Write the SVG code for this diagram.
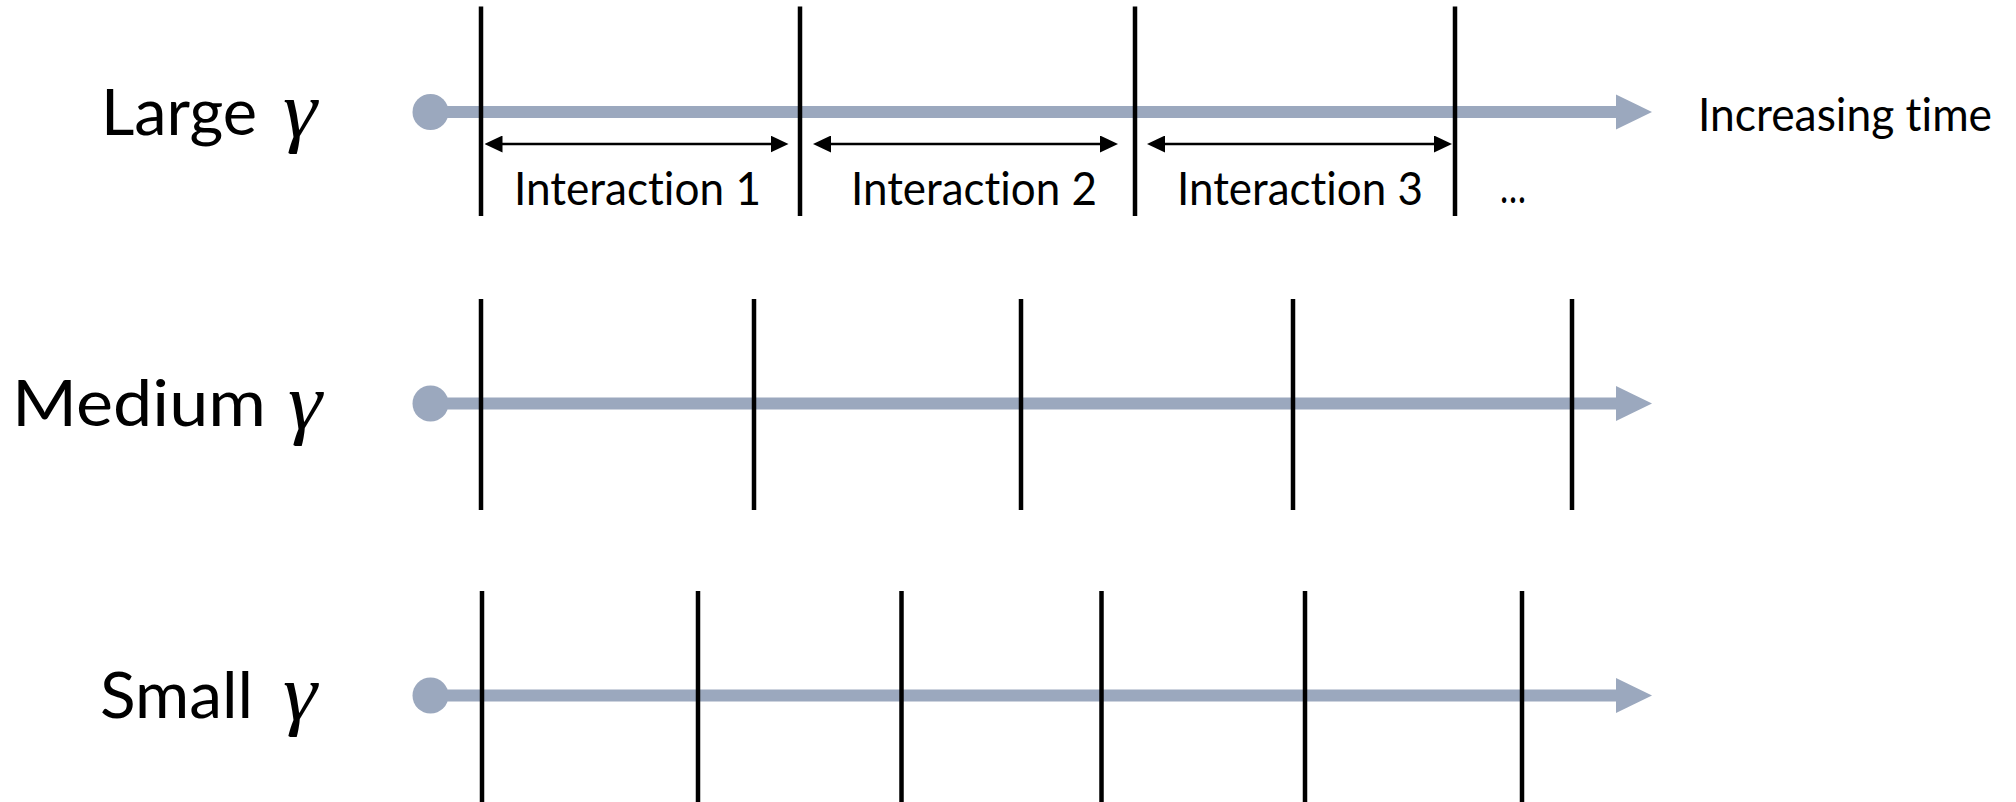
<svg xmlns="http://www.w3.org/2000/svg" width="2016" height="802" viewBox="0 0 2016 802">
  <style>
    .bar { stroke: #9BA8BE; stroke-width: 12; fill: none; }
    .dot { fill: #9BA8BE; }
    .tick { stroke: #000; stroke-width: 4.5; }
    .dbl { stroke: #000; stroke-width: 2.7; fill: none; }
    .lbl { font-family: Lato, "Open Sans", sans-serif; font-size: 64px; fill: #000; font-variant-ligatures: none; }
    .gam { font-family: "Liberation Serif", "DejaVu Serif", serif; font-style: italic; font-size: 80px; fill: #000; }
    .small { font-family: Lato, "Open Sans", sans-serif; font-size: 46px; fill: #000; font-variant-ligatures: none; font-feature-settings: "liga" 0, "clig" 0; }
  </style>
  <defs>
    <marker id="bighead" markerUnits="userSpaceOnUse" markerWidth="36" markerHeight="36" refX="0" refY="17.5" orient="auto" viewBox="0 0 36 35">
      <path d="M0,0 L36,17.5 L0,35 z" fill="#9BA8BE"/>
    </marker>
    <marker id="head" markerUnits="userSpaceOnUse" markerWidth="18" markerHeight="17" refX="8" refY="8.5" orient="auto-start-reverse" viewBox="0 0 18 17">
      <path d="M0,0 L18,8.5 L0,17 z" fill="#000"/>
    </marker>
  </defs>

  <g id="row-large">
    <text class="lbl" x="101" y="134.5" textLength="156" lengthAdjust="spacingAndGlyphs">Large</text>
    <text class="gam" x="283" y="137" textLength="34" lengthAdjust="spacingAndGlyphs">γ</text>
    <circle class="dot" cx="430.5" cy="112" r="18"/>
    <line class="bar" x1="430" y1="112" x2="1616" y2="112" marker-end="url(#bighead)"/>
    <line class="tick" x1="481" y1="6.5" x2="481" y2="216"/>
    <line class="tick" x1="800" y1="6.5" x2="800" y2="216"/>
    <line class="tick" x1="1135" y1="6.5" x2="1135" y2="216"/>
    <line class="tick" x1="1455" y1="6.5" x2="1455" y2="216"/>
  </g>

  <g id="row-medium">
    <text class="lbl" x="12" y="426" textLength="254" lengthAdjust="spacingAndGlyphs">Medium</text>
    <text class="gam" x="288" y="428.5" textLength="34" lengthAdjust="spacingAndGlyphs">γ</text>
    <circle class="dot" cx="430.5" cy="403.5" r="18"/>
    <line class="bar" x1="430" y1="403.5" x2="1616" y2="403.5" marker-end="url(#bighead)"/>
    <line class="tick" x1="481" y1="299" x2="481" y2="510"/>
    <line class="tick" x1="754" y1="299" x2="754" y2="510"/>
    <line class="tick" x1="1021" y1="299" x2="1021" y2="510"/>
    <line class="tick" x1="1293" y1="299" x2="1293" y2="510"/>
    <line class="tick" x1="1572" y1="299" x2="1572" y2="510"/>
  </g>

  <g id="row-small">
    <text class="lbl" x="100" y="717.5" textLength="153" lengthAdjust="spacingAndGlyphs">Small</text>
    <text class="gam" x="283" y="720" textLength="34" lengthAdjust="spacingAndGlyphs">γ</text>
    <circle class="dot" cx="430.5" cy="695.5" r="18"/>
    <line class="bar" x1="430" y1="695.5" x2="1616" y2="695.5" marker-end="url(#bighead)"/>
    <line class="tick" x1="482" y1="591" x2="482" y2="802"/>
    <line class="tick" x1="698" y1="591" x2="698" y2="802"/>
    <line class="tick" x1="901.5" y1="591" x2="901.5" y2="802"/>
    <line class="tick" x1="1101.5" y1="591" x2="1101.5" y2="802"/>
    <line class="tick" x1="1305" y1="591" x2="1305" y2="802"/>
    <line class="tick" x1="1522" y1="591" x2="1522" y2="802"/>
  </g>

  <g id="connectors">
    <line class="dbl" x1="494.5" y1="144" x2="778.5" y2="144" marker-start="url(#head)" marker-end="url(#head)"/>
    <line class="dbl" x1="823" y1="144" x2="1108" y2="144" marker-start="url(#head)" marker-end="url(#head)"/>
    <line class="dbl" x1="1157" y1="144" x2="1442" y2="144" marker-start="url(#head)" marker-end="url(#head)"/>
  </g>

  <g id="labels">
    <text class="small" x="1698" y="131" textLength="294" lengthAdjust="spacingAndGlyphs">Increasing time</text>
    <text class="small" x="514" y="205" textLength="247" lengthAdjust="spacingAndGlyphs">Interaction 1</text>
    <text class="small" x="851" y="205" textLength="246" lengthAdjust="spacingAndGlyphs">Interaction 2</text>
    <text class="small" x="1177" y="205" textLength="246" lengthAdjust="spacingAndGlyphs">Interaction 3</text>
    <text class="small" x="1500" y="203" textLength="26" lengthAdjust="spacingAndGlyphs">…</text>
  </g>
</svg>
